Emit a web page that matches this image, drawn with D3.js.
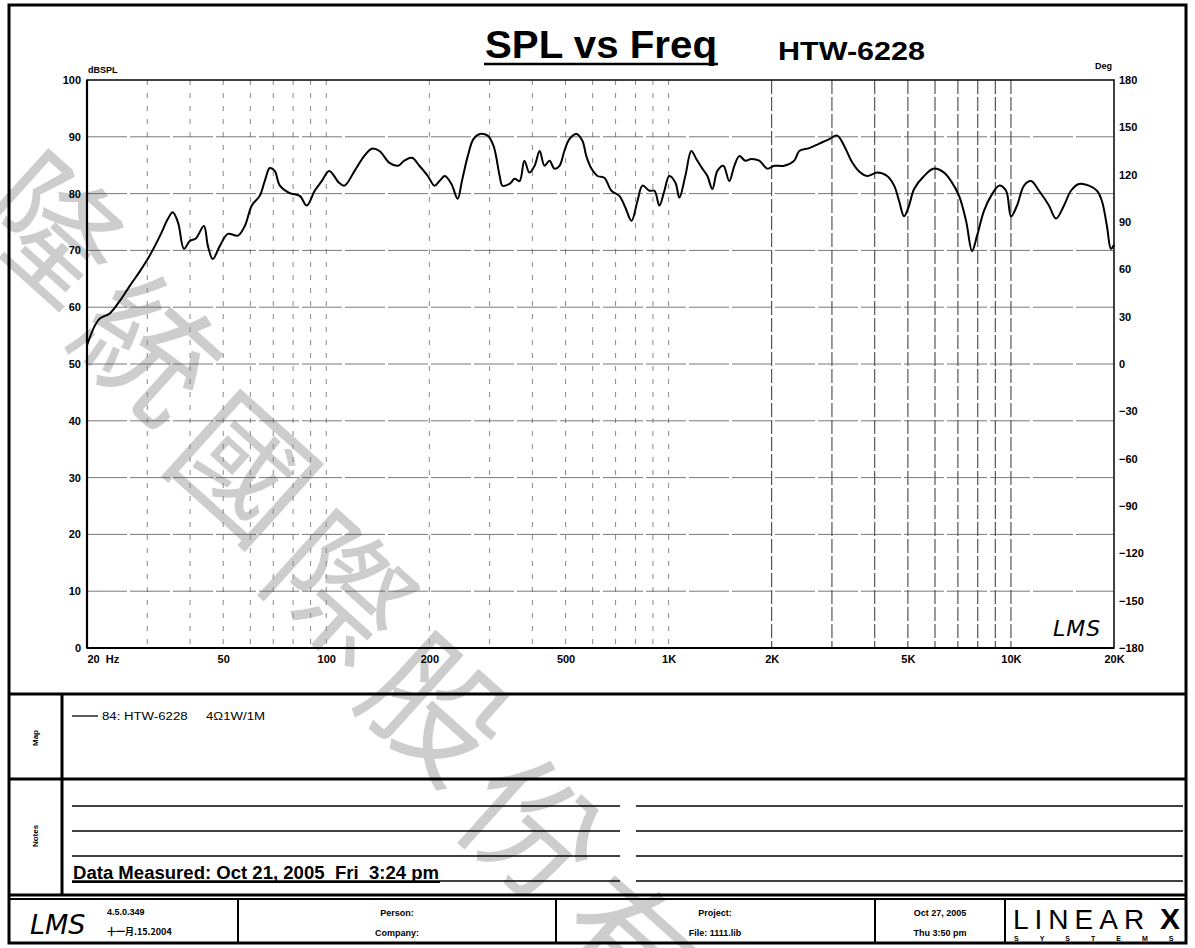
<!DOCTYPE html>
<html>
<head>
<meta charset="utf-8">
<script src="https://cdn.jsdelivr.net/npm/d3@7"></script>
<style>
body { margin: 0; background: #fff; }
text { font-family: "Liberation Sans", Arial, sans-serif; }
</style>
</head>
<body>
<script>
// SPL curve (Hz, dB)
var freq = [20, 21.1, 21.8, 23.3, 25, 26.7, 28.6, 30.5, 32.7, 34.5, 35.6, 36.9, 38.4, 40, 41.6, 43.9, 45.1, 46.6, 48.9, 51.6,
  55.2, 57.8, 60.6, 63.9, 66.1, 68.4, 70.7, 73.2, 78.2, 83.7, 87.7, 92.5, 97, 102, 109, 113, 121, 129, 136, 143,
  153, 162, 169, 178, 187, 198, 207, 214, 222, 232, 242, 249, 259, 269, 281, 296, 308, 321, 327, 343,
  355, 367, 379, 392, 406, 420, 434, 449, 464, 480, 496, 513, 538, 560, 575, 595, 620, 649, 681, 718,
  748, 779, 811, 839, 879, 909, 940, 972, 1005, 1047, 1075, 1119, 1165, 1205, 1255, 1298, 1342, 1388, 1445, 1504,
  1556, 1609, 1675, 1744, 1840, 1942, 2035, 2177, 2328, 2408, 2576, 2755, 2946, 3108, 3258, 3416, 3604, 3802, 4066, 4348,
  4558, 4713, 4873, 5040, 5213, 5574, 5963, 6377, 6686, 7054, 7395, 7698, 7962, 8346, 8748, 9232, 9676, 10006, 10420, 10918,
  11444, 12076, 12912, 13534, 14288, 14970, 15800, 16900, 17834, 18438, 19070, 19590, 20000];
var spl = [53.3, 56.8, 58.0, 58.9, 61.2, 63.8, 66.4, 69.1, 72.6, 75.6, 76.7, 74.9, 70.3, 71.7, 72.1, 74.3, 70.8, 68.5, 70.8, 72.9,
  72.6, 74.3, 77.9, 79.6, 82.2, 84.5, 84.0, 81.4, 80.1, 79.6, 77.9, 80.5, 82.2, 84.0, 81.9, 81.4, 84.0, 86.6, 87.9, 87.5,
  85.4, 84.9, 85.8, 86.3, 84.9, 83.1, 81.4, 82.2, 83.1, 81.7, 79.1, 82.2, 86.6, 89.6, 90.5, 90.2, 88.4, 83.1, 81.4, 81.7,
  82.6, 82.2, 85.8, 83.7, 84.9, 87.5, 84.9, 85.8, 84.4, 84.9, 87.5, 89.6, 90.5, 89.3, 86.6, 84.4, 83.1, 82.8, 80.5, 79.6,
  77.5, 75.2, 78.7, 81.4, 80.5, 80.5, 77.9, 80.5, 83.1, 81.9, 79.3, 83.1, 87.5, 86.1, 84.4, 83.1, 80.8, 84.0, 84.9, 82.2,
  84.9, 86.6, 85.8, 86.1, 85.8, 84.4, 84.9, 84.9, 85.8, 87.5, 88.0, 88.8, 89.6, 90.2, 88.4, 85.8, 83.9, 83.1, 83.7, 83.1,
  81.4, 78.7, 76.0, 77.9, 80.8, 83.1, 84.4, 83.7, 82.2, 79.6, 75.2, 69.9, 72.6, 77.0, 79.6, 81.4, 80.5, 76.0, 77.9, 81.4,
  82.2, 80.5, 77.9, 75.6, 77.9, 80.5, 81.7, 81.4, 80.5, 78.7, 74.3, 70.3, 71.0];

var dbTicks = [0, 10, 20, 30, 40, 50, 60, 70, 80, 90, 100];
var degTicks = [-180, -150, -120, -90, -60, -30, 0, 30, 60, 90, 120, 150, 180];
var freqTicks = [20, 50, 100, 200, 500, 1000, 2000, 5000, 10000, 20000];
var freqLabels = ["20  Hz", "50", "100", "200", "500", "1K", "2K", "5K", "10K", "20K"];
var watermark = ["隆", "統", "國", "際", "股", "份", "有"];

var W = 1195, H = 948;
var svg = d3.select("body").append("svg")
  .attr("width", W)
  .attr("height", H);

// watermark behind everything
var wm = svg.append("g");
watermark.forEach(function(c, i) {
  var cx = 58 + i * 96, cy = 222 + i * 120;
  wm.append("text")
    .attr("transform", "translate(" + cx + "," + cy + ") rotate(42)")
    .attr("text-anchor", "middle")
    .attr("dominant-baseline", "central")
    .style("font-family", "'Noto Sans CJK TC', sans-serif")
    .style("font-weight", 400)
    .style("font-size", "135px")
    .style("fill", "#cdcdcd")
    .text(c);
});

var x = d3.scaleLog().domain([20, 20000]).range([87, 1114]);
var y = d3.scaleLinear().domain([0, 100]).range([648, 80]);
var yDeg = d3.scaleLinear().domain([-180, 180]).range([648, 80]);

// minor frequency grid
var gridF = [];
[10, 100, 1000, 10000].forEach(function(dec) {
  for (var k = 1; k <= 9; k++) {
    var f = dec * k;
    if (f > 20 && f < 20000) gridF.push(f);
  }
});

var plot = svg.append("g");
plot.selectAll(".vg").data(gridF).enter().append("line")
  .attr("x1", function(d) { return x(d); })
  .attr("x2", function(d) { return x(d); })
  .attr("y1", y(100)).attr("y2", y(0))
  .style("stroke", function(d) { return d >= 2000 ? "#333" : "#888"; })
  .style("stroke-width", 1)
  .style("stroke-dasharray", function(d) { return d >= 2000 ? "14,3" : "5,8"; });

plot.selectAll(".hg").data(dbTicks.slice(1, -1)).enter().append("line")
  .attr("x1", x(20)).attr("x2", x(20000))
  .attr("y1", function(d) { return y(d); })
  .attr("y2", function(d) { return y(d); })
  .style("stroke", "#555")
  .style("stroke-width", 0.8)
  .style("stroke-dasharray", "40,3");

// frame
plot.append("rect")
  .attr("x", x(20)).attr("y", y(100))
  .attr("width", x(20000) - x(20)).attr("height", y(0) - y(100))
  .style("fill", "none").style("stroke", "#111").style("stroke-width", 1.6);
plot.append("line").attr("x1", x(20)).attr("x2", x(20)).attr("y1", y(100)).attr("y2", y(0))
  .style("stroke", "#000").style("stroke-width", 2.2);
plot.append("line").attr("x1", x(20)).attr("x2", x(20000)).attr("y1", y(0)).attr("y2", y(0))
  .style("stroke", "#000").style("stroke-width", 2.2);

// axes
var tickFont = "bold 11px 'Liberation Sans Narrow', 'Liberation Sans', sans-serif";
var left = svg.append("g").attr("transform", "translate(" + x(20) + ",0)")
  .call(d3.axisLeft(y).tickValues(dbTicks).tickSize(0).tickPadding(6));
var right = svg.append("g").attr("transform", "translate(" + x(20000) + ",0)")
  .call(d3.axisRight(yDeg).tickValues(degTicks).tickSize(0).tickPadding(5));
var bottom = svg.append("g").attr("transform", "translate(0," + y(0) + ")")
  .call(d3.axisBottom(x).tickValues(freqTicks).tickSize(0).tickPadding(7)
    .tickFormat(function(d, i) { return freqLabels[i]; }));
[left, right, bottom].forEach(function(a) {
  a.select(".domain").remove();
  a.selectAll("text").style("font", tickFont).style("fill", "#000");
});
bottom.selectAll("text").filter(function(d) { return d === 20; })
  .attr("text-anchor", "start").attr("x", 0)
  .attr("xml:space", "preserve");

svg.append("text").attr("x", 88).attr("y", 73).text("dBSPL")
  .style("font", "bold 9px 'Liberation Sans', sans-serif");
svg.append("text").attr("x", 1112).attr("y", 69).attr("text-anchor", "end").text("Deg")
  .style("font", "bold 9px 'Liberation Sans', sans-serif");

// the curve
var pts = freq.map(function(f, i) { return [f, spl[i]]; });
var line = d3.line()
  .x(function(d) { return x(d[0]); })
  .y(function(d) { return y(d[1]); })
  .curve(d3.curveCatmullRom.alpha(0.5));
svg.append("path").datum(pts)
  .attr("d", line)
  .style("fill", "none").style("stroke", "#000").style("stroke-width", 2)
  .style("stroke-linejoin", "round");

// titles
svg.append("text").attr("x", 485).attr("y", 58)
  .attr("textLength", 232).attr("lengthAdjust", "spacingAndGlyphs")
  .style("font", "bold 38px 'Liberation Sans', Arial, sans-serif")
  .text("SPL vs Freq");
svg.append("line").attr("x1", 484).attr("x2", 718).attr("y1", 64).attr("y2", 64)
  .style("stroke", "#000").style("stroke-width", 2.5);
svg.append("text").attr("x", 778).attr("y", 60)
  .attr("textLength", 147).attr("lengthAdjust", "spacingAndGlyphs")
  .style("font", "bold 26px 'Liberation Sans', Arial, sans-serif")
  .text("HTW-6228");

svg.append("text").attr("x", 1077).attr("y", 636).attr("text-anchor", "middle")
  .style("font", "italic 22px 'DejaVu Sans', sans-serif")
  .style("letter-spacing", "1px")
  .text("LMS");

// panel borders
var ink = "#000";
function hline(x1, x2, yy, w) {
  svg.append("line").attr("x1", x1).attr("x2", x2).attr("y1", yy).attr("y2", yy)
    .style("stroke", ink).style("stroke-width", w);
}
function vline(xx, y1, y2, w) {
  svg.append("line").attr("x1", xx).attr("x2", xx).attr("y1", y1).attr("y2", y2)
    .style("stroke", ink).style("stroke-width", w);
}
svg.append("rect").attr("x", 9).attr("y", 5).attr("width", 1177).attr("height", 938)
  .style("fill", "none").style("stroke", ink).style("stroke-width", 3);
hline(9, 1186, 694, 3);
hline(9, 1186, 779, 3);
hline(9, 1186, 895, 3);
hline(9, 1186, 899, 2);
vline(62, 694, 895, 3);

// map panel
svg.append("text").attr("transform", "translate(38,738) rotate(-90)")
  .attr("text-anchor", "middle")
  .style("font", "bold 8px 'Liberation Sans', sans-serif").text("Map");
hline(72, 98, 716, 1.3);
svg.append("text").attr("x", 102).attr("y", 720)
  .attr("textLength", 163).attr("lengthAdjust", "spacingAndGlyphs")
  .style("font", "10px 'Liberation Sans Narrow', 'Liberation Sans', sans-serif")
  .attr("xml:space", "preserve")
  .text("84: HTW-6228     4Ω1W/1M");

// notes panel
svg.append("text").attr("transform", "translate(38,836) rotate(-90)")
  .attr("text-anchor", "middle")
  .style("font", "bold 8px 'Liberation Sans', sans-serif").text("Notes");
[806, 831, 856, 881].forEach(function(yy) {
  hline(72, 620, yy, 1.6);
  hline(636, 1183, yy, 1.6);
});
svg.append("text").attr("x", 73).attr("y", 879)
  .attr("textLength", 366).attr("lengthAdjust", "spacingAndGlyphs")
  .style("font", "bold 18px 'Liberation Sans Narrow', 'Liberation Sans', sans-serif")
  .attr("xml:space", "preserve")
  .text("Data Measured: Oct 21, 2005  Fri  3:24 pm");
hline(72, 440, 882, 2);

// footer
vline(238, 899, 943, 2);
vline(556, 899, 943, 2);
vline(875, 899, 943, 2);
vline(1005, 899, 943, 2);
svg.append("text").attr("x", 30).attr("y", 934)
  .style("font", "italic 27px 'DejaVu Sans', sans-serif").text("LMS");
svg.append("text").attr("x", 107).attr("y", 915)
  .style("font", "bold 9px 'Liberation Sans Narrow', 'Liberation Sans', sans-serif").text("4.5.0.349");
svg.append("text").attr("x", 107).attr("y", 935)
  .style("font", "bold 9px 'Noto Sans CJK TC', sans-serif").text("十一月.15.2004");
function cell(cx, t1, t2) {
  svg.append("text").attr("x", cx).attr("y", 916).attr("text-anchor", "middle")
    .style("font", "bold 9px 'Liberation Sans', sans-serif").text(t1);
  svg.append("text").attr("x", cx).attr("y", 936).attr("text-anchor", "middle")
    .style("font", "bold 9px 'Liberation Sans', sans-serif").text(t2);
}
cell(397, "Person:", "Company:");
cell(715, "Project:", "File: 1111.lib");
cell(940, "Oct 27, 2005", "Thu 3:50 pm");
svg.append("text").attr("x", 1013).attr("y", 929)
  .style("font", "28px 'Liberation Sans', sans-serif")
  .style("letter-spacing", "6px")
  .text("LINEAR");
svg.append("text").attr("x", 1160).attr("y", 929)
  .style("font", "bold 30px 'Liberation Sans', sans-serif").text("X");
svg.append("text").attr("x", 1014).attr("y", 941)
  .style("font", "bold 7px 'Liberation Sans', sans-serif")
  .style("letter-spacing", "21px")
  .text("SYSTEMS");
</script>
</body>
</html>
